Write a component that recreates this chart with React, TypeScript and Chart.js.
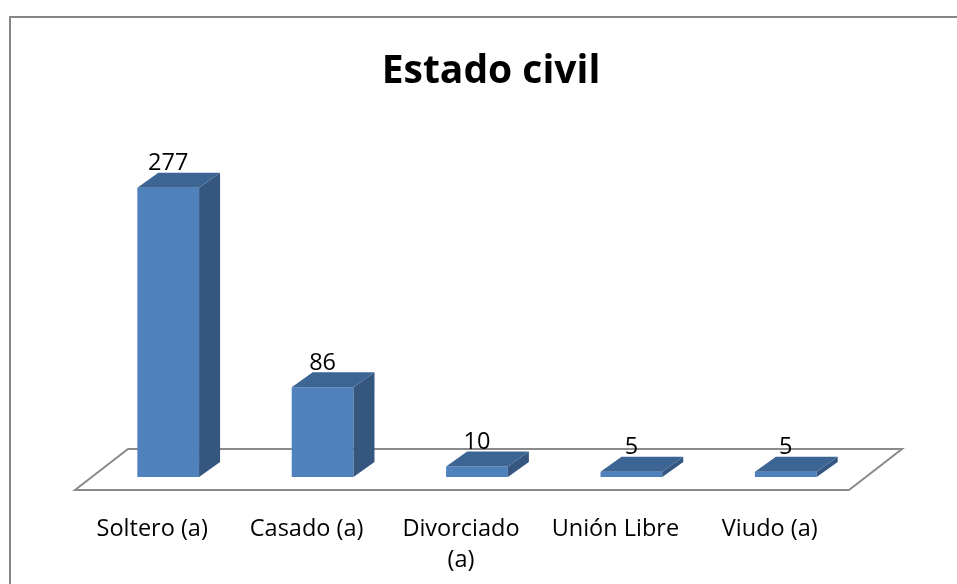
import { useEffect, useRef } from "react";
import { Chart, registerables } from "chart.js";

Chart.register(...registerables);

const titleText = "Estado civil";
const categories: (string | string[])[] = [
  "Soltero (a)",
  "Casado (a)",
  ["Divorciado", "(a)"],
  "Unión Libre",
  "Viudo (a)",
];
const values = [277, 86, 10, 5, 5];
const yMin = 0;
const yMax = 300;

const FONT = "'Open Sans', 'Liberation Sans', sans-serif";
const FRONT = "#4F81BD";
const SIDE = "#34567F";
const TOP = "#3D6593";
const DEPTH_X = 21;
const DEPTH_Y = -15;

const threeD = {
  id: "threeD",
  beforeDraw(chart: any) {
    const ctx = chart.ctx;
    ctx.save();
    ctx.strokeStyle = "#868686";
    ctx.lineWidth = 2;
    ctx.strokeRect(10, 17, 1200, 1200);
    ctx.restore();
  },
  beforeDatasetsDraw(chart: any) {
    const { ctx, chartArea } = chart;
    const { left, right, bottom } = chartArea;
    ctx.save();
    ctx.strokeStyle = "#8A8A8A";
    ctx.lineWidth = 2;
    ctx.beginPath();
    ctx.moveTo(left - 16, bottom + 13);
    ctx.lineTo(left + 37, bottom - 28);
    ctx.lineTo(right + 39, bottom - 28);
    ctx.lineTo(right - 14, bottom + 13);
    ctx.closePath();
    ctx.stroke();
    ctx.restore();
  },
  afterDatasetsDraw(chart: any) {
    const ctx = chart.ctx;
    const meta = chart.getDatasetMeta(0);
    ctx.save();
    meta.data.forEach((bar: any, i: number) => {
      const { x, y, base, width } = bar.getProps(["x", "y", "base", "width"], true);
      const x0 = x - width / 2;
      const x1 = x + width / 2;
      // side face
      ctx.fillStyle = SIDE;
      ctx.beginPath();
      ctx.moveTo(x1, y);
      ctx.lineTo(x1 + DEPTH_X, y + DEPTH_Y);
      ctx.lineTo(x1 + DEPTH_X, base + DEPTH_Y);
      ctx.lineTo(x1, base);
      ctx.closePath();
      ctx.fill();
      // top face
      ctx.fillStyle = TOP;
      ctx.beginPath();
      ctx.moveTo(x0, y);
      ctx.lineTo(x0 + DEPTH_X, y + DEPTH_Y);
      ctx.lineTo(x1 + DEPTH_X, y + DEPTH_Y);
      ctx.lineTo(x1, y);
      ctx.closePath();
      ctx.fill();
      // value label
      ctx.fillStyle = "#000";
      ctx.font = `23.5px ${FONT}`;
      ctx.textAlign = "center";
      ctx.textBaseline = "alphabetic";
      ctx.fillText(String(values[i]), x, y - 17.5);
    });
    ctx.restore();
  },
};

export default function App() {
  const ref = useRef<HTMLCanvasElement | null>(null);

  useEffect(() => {
    if (!ref.current) return;
    const chart = new Chart(ref.current, {
      type: "bar",
      data: {
        labels: categories,
        datasets: [
          {
            data: values,
            backgroundColor: FRONT,
            borderWidth: 0,
            categoryPercentage: 1,
            barPercentage: 0.4,
          },
        ],
      },
      options: {
        responsive: false,
        animation: false,
        devicePixelRatio: 1,
        layout: { padding: { left: 91, right: 66, top: 0, bottom: 0 } },
        plugins: {
          legend: { display: false },
          tooltip: { enabled: false },
          title: {
            display: true,
            text: titleText,
            color: "#000",
            font: { family: FONT, size: 39, weight: "bold", lineHeight: 1.2 },
            padding: { top: 48, bottom: 69 },
          },
        },
        scales: {
          x: {
            grid: { display: false, drawTicks: false },
            border: { display: false },
            ticks: {
              color: "#000",
              font: { family: FONT, size: 23.5, lineHeight: 1.3 },
              padding: 37,
              labelOffset: -16,
              maxRotation: 0,
              minRotation: 0,
              autoSkip: false,
            },
            afterFit: (scale: any) => {
              scale.height = 107;
            },
          },
          y: {
            position: "right",
            min: yMin,
            max: yMax,
            grid: { display: false, drawTicks: false },
            border: { display: false },
            ticks: { display: false },
            afterFit: (scale: any) => {
              scale.width = 28;
            },
          },
        },
      },
      plugins: [threeD],
    });
    return () => chart.destroy();
  }, []);

  return (
    <div style={{ position: "absolute", left: 0, top: 0, width: 957, height: 584, background: "#fff" }}>
      <canvas ref={ref} width={957} height={584} />
    </div>
  );
}
